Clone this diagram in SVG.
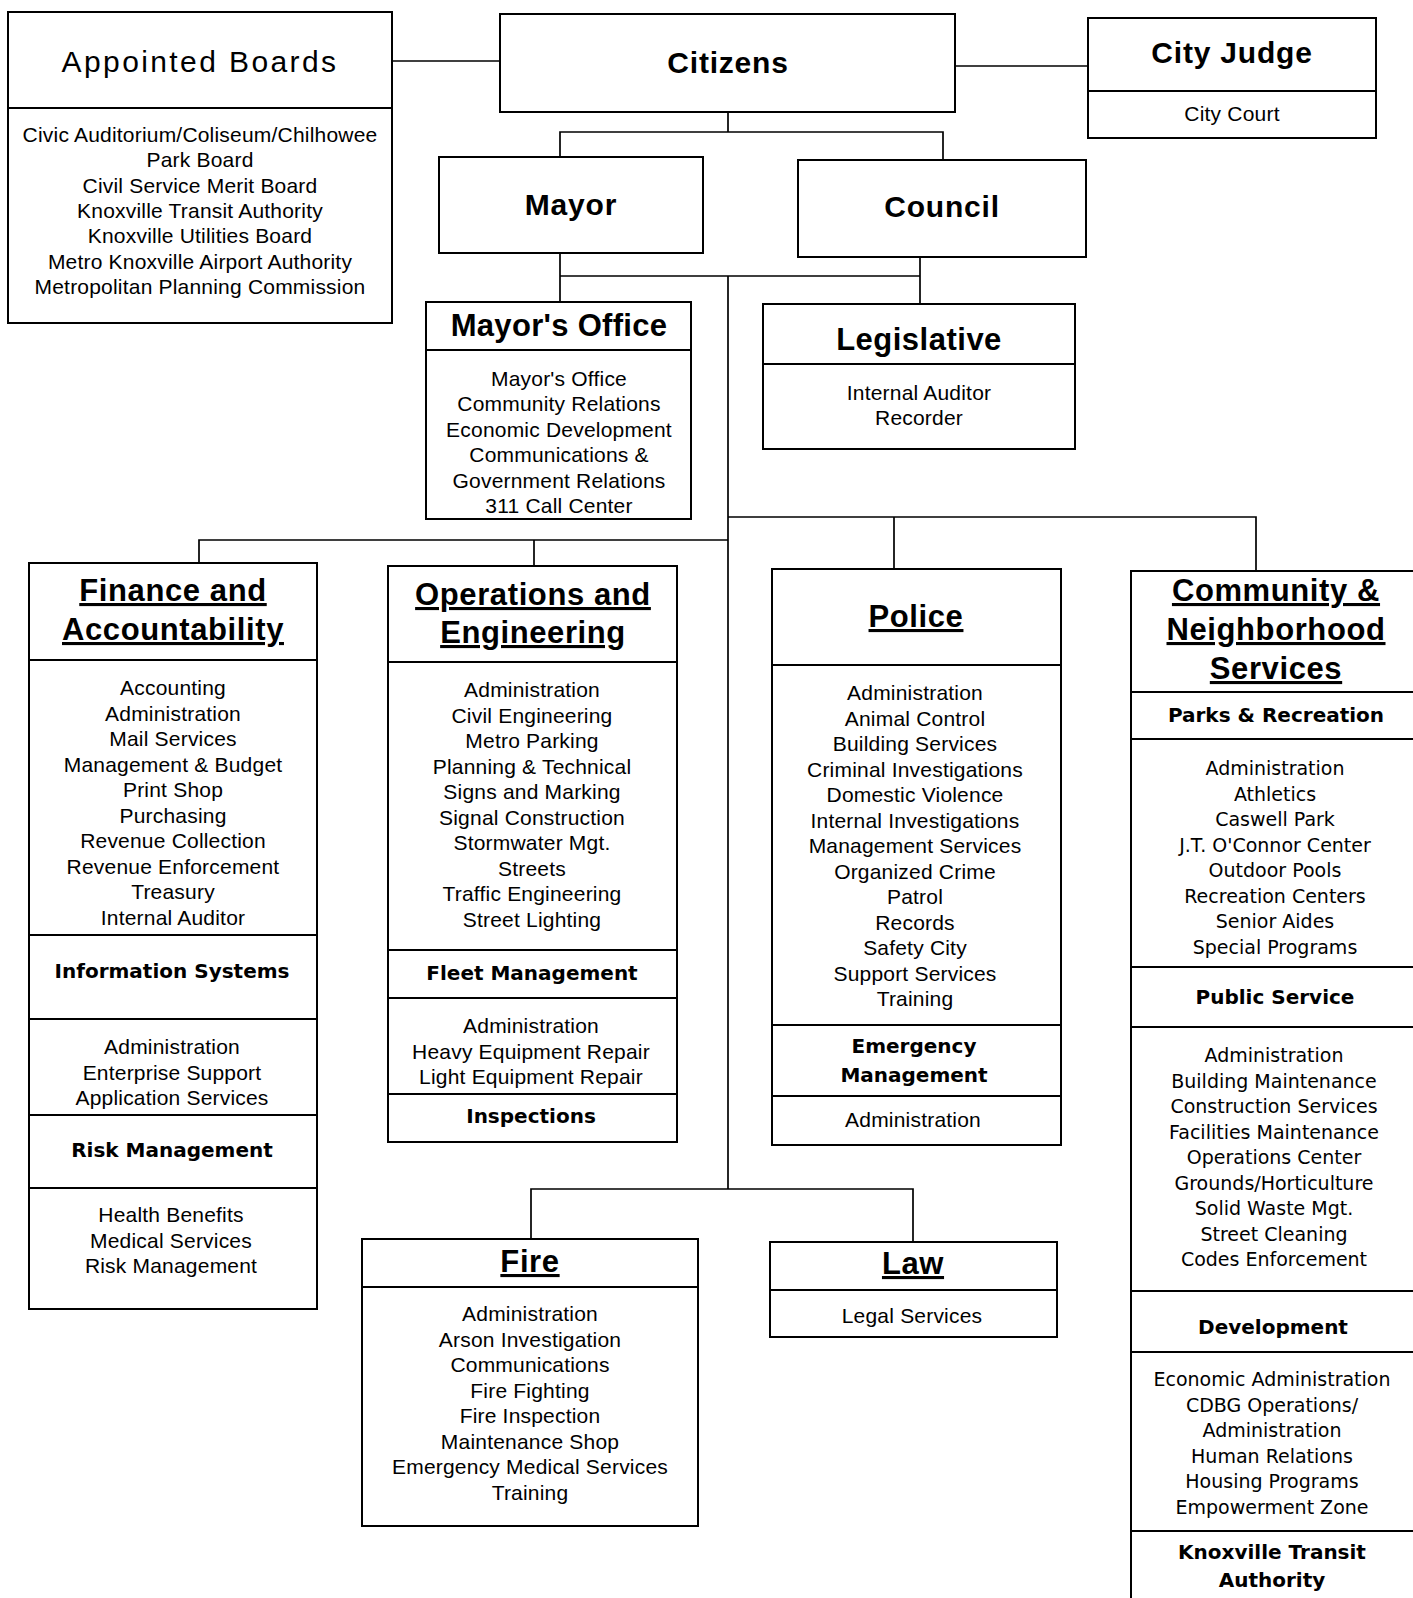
<svg xmlns="http://www.w3.org/2000/svg" width="1413" height="1598" viewBox="0 0 1413 1598">
<style>
.bx{fill:#fff;stroke:#000;stroke-width:2}
.dv{stroke:#000;stroke-width:2}
.cn{fill:none;stroke:#000;stroke-width:1.7}
text{fill:#000;text-anchor:middle}
.t1{font-family:"Liberation Sans",Arial,sans-serif;font-size:30px;font-weight:bold;letter-spacing:0.8px}
.t0{font-family:"Liberation Sans",Arial,sans-serif;font-size:30px;letter-spacing:2.4px}
.tu{font-family:"Liberation Sans",Arial,sans-serif;font-size:31px;font-weight:bold;letter-spacing:0.6px;text-decoration:underline}
.li{font-family:"Liberation Sans",Arial,sans-serif;font-size:21px;letter-spacing:0.2px}
.lc{font-family:"DejaVu Sans",Verdana,sans-serif;font-size:19px}
.sh{font-family:"DejaVu Sans",Verdana,sans-serif;font-size:20px;font-weight:bold}
</style>

<g id="connectors">
<path class="cn" d="M392,61 H500"/>
<path class="cn" d="M955,66 H1088"/>
<path class="cn" d="M728,112 V132 M560,157 V132 H943 V160"/>
<path class="cn" d="M560,253 V302 M560,276 H920 M920,257 V304"/>
<path class="cn" d="M728,276 V1189"/>
<path class="cn" d="M199,563 V540 H728 M534,540 V567"/>
<path class="cn" d="M728,517 H1256 V571 M894,517 V569"/>
<path class="cn" d="M531,1239 V1189 H913 V1242"/>
</g>

<g id="appointed-boards">
<rect class="bx" x="8" y="12" width="384" height="311"/>
<line class="dv" x1="8" y1="108" x2="392" y2="108"/>
<text class="t0" x="200" y="72">Appointed Boards</text>
<text class="li" x="200" y="142">Civic Auditorium/Coliseum/Chilhowee</text>
<text class="li" x="200" y="167.3">Park Board</text>
<text class="li" x="200" y="192.6">Civil Service Merit Board</text>
<text class="li" x="200" y="217.9">Knoxville Transit Authority</text>
<text class="li" x="200" y="243.2">Knoxville Utilities Board</text>
<text class="li" x="200" y="268.5">Metro Knoxville Airport Authority</text>
<text class="li" x="200" y="293.8">Metropolitan Planning Commission</text>
</g>

<g id="citizens">
<rect class="bx" x="500" y="14" width="455" height="98"/>
<text class="t1" x="728" y="73">Citizens</text>
</g>

<g id="city-judge">
<rect class="bx" x="1088" y="18" width="288" height="120"/>
<line class="dv" x1="1088" y1="91" x2="1376" y2="91"/>
<text class="t1" x="1232" y="63">City Judge</text>
<text class="li" x="1232" y="121">City Court</text>
</g>

<g id="mayor">
<rect class="bx" x="439" y="157" width="264" height="96"/>
<text class="t1" x="571" y="215">Mayor</text>
</g>

<g id="council">
<rect class="bx" x="798" y="160" width="288" height="97"/>
<text class="t1" x="942" y="217">Council</text>
</g>

<g id="mayors-office">
<rect class="bx" x="426" y="302" width="265" height="217"/>
<line class="dv" x1="426" y1="350" x2="691" y2="350"/>
<text class="t1" x="559" y="336" style="font-size:31px;letter-spacing:0.3px">Mayor's Office</text>
<text class="li" x="559" y="385.5">Mayor's Office</text>
<text class="li" x="559" y="411">Community Relations</text>
<text class="li" x="559" y="436.5">Economic Development</text>
<text class="li" x="559" y="462">Communications &amp;</text>
<text class="li" x="559" y="487.5">Government Relations</text>
<text class="li" x="559" y="513">311 Call Center</text>
</g>

<g id="legislative">
<rect class="bx" x="763" y="304" width="312" height="145"/>
<line class="dv" x1="763" y1="364" x2="1075" y2="364"/>
<text class="t1" x="919" y="350" style="font-size:31px;letter-spacing:0.5px">Legislative</text>
<text class="li" x="919" y="400">Internal Auditor</text>
<text class="li" x="919" y="425">Recorder</text>
</g>

<g id="finance">
<rect class="bx" x="29" y="563" width="288" height="746"/>
<line class="dv" x1="29" y1="660" x2="317" y2="660"/>
<line class="dv" x1="29" y1="935" x2="317" y2="935"/>
<line class="dv" x1="29" y1="1019" x2="317" y2="1019"/>
<line class="dv" x1="29" y1="1115" x2="317" y2="1115"/>
<line class="dv" x1="29" y1="1188" x2="317" y2="1188"/>
<text class="tu" x="173" y="601">Finance and</text>
<text class="tu" x="173" y="640">Accountability</text>
<text class="li" x="173" y="695">Accounting</text>
<text class="li" x="173" y="720.5">Administration</text>
<text class="li" x="173" y="746">Mail Services</text>
<text class="li" x="173" y="771.5">Management &amp; Budget</text>
<text class="li" x="173" y="797">Print Shop</text>
<text class="li" x="173" y="822.5">Purchasing</text>
<text class="li" x="173" y="848">Revenue Collection</text>
<text class="li" x="173" y="873.5">Revenue Enforcement</text>
<text class="li" x="173" y="899">Treasury</text>
<text class="li" x="173" y="924.5">Internal Auditor</text>
<text class="sh" x="172" y="978">Information Systems</text>
<text class="li" x="172" y="1054">Administration</text>
<text class="li" x="172" y="1080">Enterprise Support</text>
<text class="li" x="172" y="1105">Application Services</text>
<text class="sh" x="172" y="1157">Risk Management</text>
<text class="li" x="171" y="1222">Health Benefits</text>
<text class="li" x="171" y="1248">Medical Services</text>
<text class="li" x="171" y="1273">Risk Management</text>
</g>

<g id="operations">
<rect class="bx" x="388" y="566" width="289" height="576"/>
<line class="dv" x1="388" y1="662" x2="677" y2="662"/>
<line class="dv" x1="388" y1="950" x2="677" y2="950"/>
<line class="dv" x1="388" y1="998" x2="677" y2="998"/>
<line class="dv" x1="388" y1="1094" x2="677" y2="1094"/>
<text class="tu" x="533" y="605">Operations and</text>
<text class="tu" x="533" y="643">Engineering</text>
<text class="li" x="532" y="697">Administration</text>
<text class="li" x="532" y="722.5">Civil Engineering</text>
<text class="li" x="532" y="748">Metro Parking</text>
<text class="li" x="532" y="773.5">Planning &amp; Technical</text>
<text class="li" x="532" y="799">Signs and Marking</text>
<text class="li" x="532" y="824.5">Signal Construction</text>
<text class="li" x="532" y="850">Stormwater Mgt.</text>
<text class="li" x="532" y="875.5">Streets</text>
<text class="li" x="532" y="901">Traffic Engineering</text>
<text class="li" x="532" y="926.5">Street Lighting</text>
<text class="sh" x="532" y="980">Fleet Management</text>
<text class="li" x="531" y="1033">Administration</text>
<text class="li" x="531" y="1058.5">Heavy Equipment Repair</text>
<text class="li" x="531" y="1084">Light Equipment Repair</text>
<text class="sh" x="531" y="1123">Inspections</text>
</g>

<g id="police">
<rect class="bx" x="772" y="569" width="289" height="576"/>
<line class="dv" x1="772" y1="665" x2="1061" y2="665"/>
<line class="dv" x1="772" y1="1025" x2="1061" y2="1025"/>
<line class="dv" x1="772" y1="1096" x2="1061" y2="1096"/>
<text class="tu" x="916" y="627">Police</text>
<text class="li" x="915" y="700">Administration</text>
<text class="li" x="915" y="725.5">Animal Control</text>
<text class="li" x="915" y="751">Building Services</text>
<text class="li" x="915" y="776.5">Criminal Investigations</text>
<text class="li" x="915" y="802">Domestic Violence</text>
<text class="li" x="915" y="827.5">Internal Investigations</text>
<text class="li" x="915" y="853">Management Services</text>
<text class="li" x="915" y="878.5">Organized Crime</text>
<text class="li" x="915" y="904">Patrol</text>
<text class="li" x="915" y="929.5">Records</text>
<text class="li" x="915" y="955">Safety City</text>
<text class="li" x="915" y="980.5">Support Services</text>
<text class="li" x="915" y="1006">Training</text>
<text class="sh" x="914" y="1053">Emergency</text>
<text class="sh" x="914" y="1082">Management</text>
<text class="li" x="913" y="1127">Administration</text>
</g>

<g id="community">
<rect class="bx" x="1131" y="571" width="290" height="1040"/>
<line class="dv" x1="1131" y1="692" x2="1421" y2="692"/>
<line class="dv" x1="1131" y1="739" x2="1421" y2="739"/>
<line class="dv" x1="1131" y1="967" x2="1421" y2="967"/>
<line class="dv" x1="1131" y1="1027" x2="1421" y2="1027"/>
<line class="dv" x1="1131" y1="1291" x2="1421" y2="1291"/>
<line class="dv" x1="1131" y1="1352" x2="1421" y2="1352"/>
<line class="dv" x1="1131" y1="1531" x2="1421" y2="1531"/>
<text class="tu" x="1276" y="601">Community &amp;</text>
<text class="tu" x="1276" y="640">Neighborhood</text>
<text class="tu" x="1276" y="679">Services</text>
<text class="sh" x="1276" y="722">Parks &amp; Recreation</text>
<text class="lc" x="1275" y="775">Administration</text>
<text class="lc" x="1275" y="800.5">Athletics</text>
<text class="lc" x="1275" y="826">Caswell Park</text>
<text class="lc" x="1275" y="851.5">J.T. O'Connor Center</text>
<text class="lc" x="1275" y="877">Outdoor Pools</text>
<text class="lc" x="1275" y="902.5">Recreation Centers</text>
<text class="lc" x="1275" y="928">Senior Aides</text>
<text class="lc" x="1275" y="953.5">Special Programs</text>
<text class="sh" x="1275" y="1004">Public Service</text>
<text class="lc" x="1274" y="1062">Administration</text>
<text class="lc" x="1274" y="1087.5">Building Maintenance</text>
<text class="lc" x="1274" y="1113">Construction Services</text>
<text class="lc" x="1274" y="1138.5">Facilities Maintenance</text>
<text class="lc" x="1274" y="1164">Operations Center</text>
<text class="lc" x="1274" y="1189.5">Grounds/Horticulture</text>
<text class="lc" x="1274" y="1215">Solid Waste Mgt.</text>
<text class="lc" x="1274" y="1240.5">Street Cleaning</text>
<text class="lc" x="1274" y="1266">Codes Enforcement</text>
<text class="sh" x="1273" y="1334">Development</text>
<text class="lc" x="1272" y="1386">Economic Administration</text>
<text class="lc" x="1272" y="1411.5">CDBG Operations/</text>
<text class="lc" x="1272" y="1437">Administration</text>
<text class="lc" x="1272" y="1462.5">Human Relations</text>
<text class="lc" x="1272" y="1488">Housing Programs</text>
<text class="lc" x="1272" y="1513.5">Empowerment Zone</text>
<text class="sh" x="1272" y="1559">Knoxville Transit</text>
<text class="sh" x="1272" y="1587">Authority</text>
</g>

<g id="fire">
<rect class="bx" x="362" y="1239" width="336" height="287"/>
<line class="dv" x1="362" y1="1287" x2="698" y2="1287"/>
<text class="tu" x="530" y="1272">Fire</text>
<text class="li" x="530" y="1321">Administration</text>
<text class="li" x="530" y="1346.5">Arson Investigation</text>
<text class="li" x="530" y="1372">Communications</text>
<text class="li" x="530" y="1397.5">Fire Fighting</text>
<text class="li" x="530" y="1423">Fire Inspection</text>
<text class="li" x="530" y="1448.5">Maintenance Shop</text>
<text class="li" x="530" y="1474">Emergency Medical Services</text>
<text class="li" x="530" y="1499.5">Training</text>
</g>

<g id="law">
<rect class="bx" x="770" y="1242" width="287" height="95"/>
<line class="dv" x1="770" y1="1290" x2="1057" y2="1290"/>
<text class="tu" x="913" y="1274">Law</text>
<text class="li" x="912" y="1323">Legal Services</text>
</g>
</svg>
